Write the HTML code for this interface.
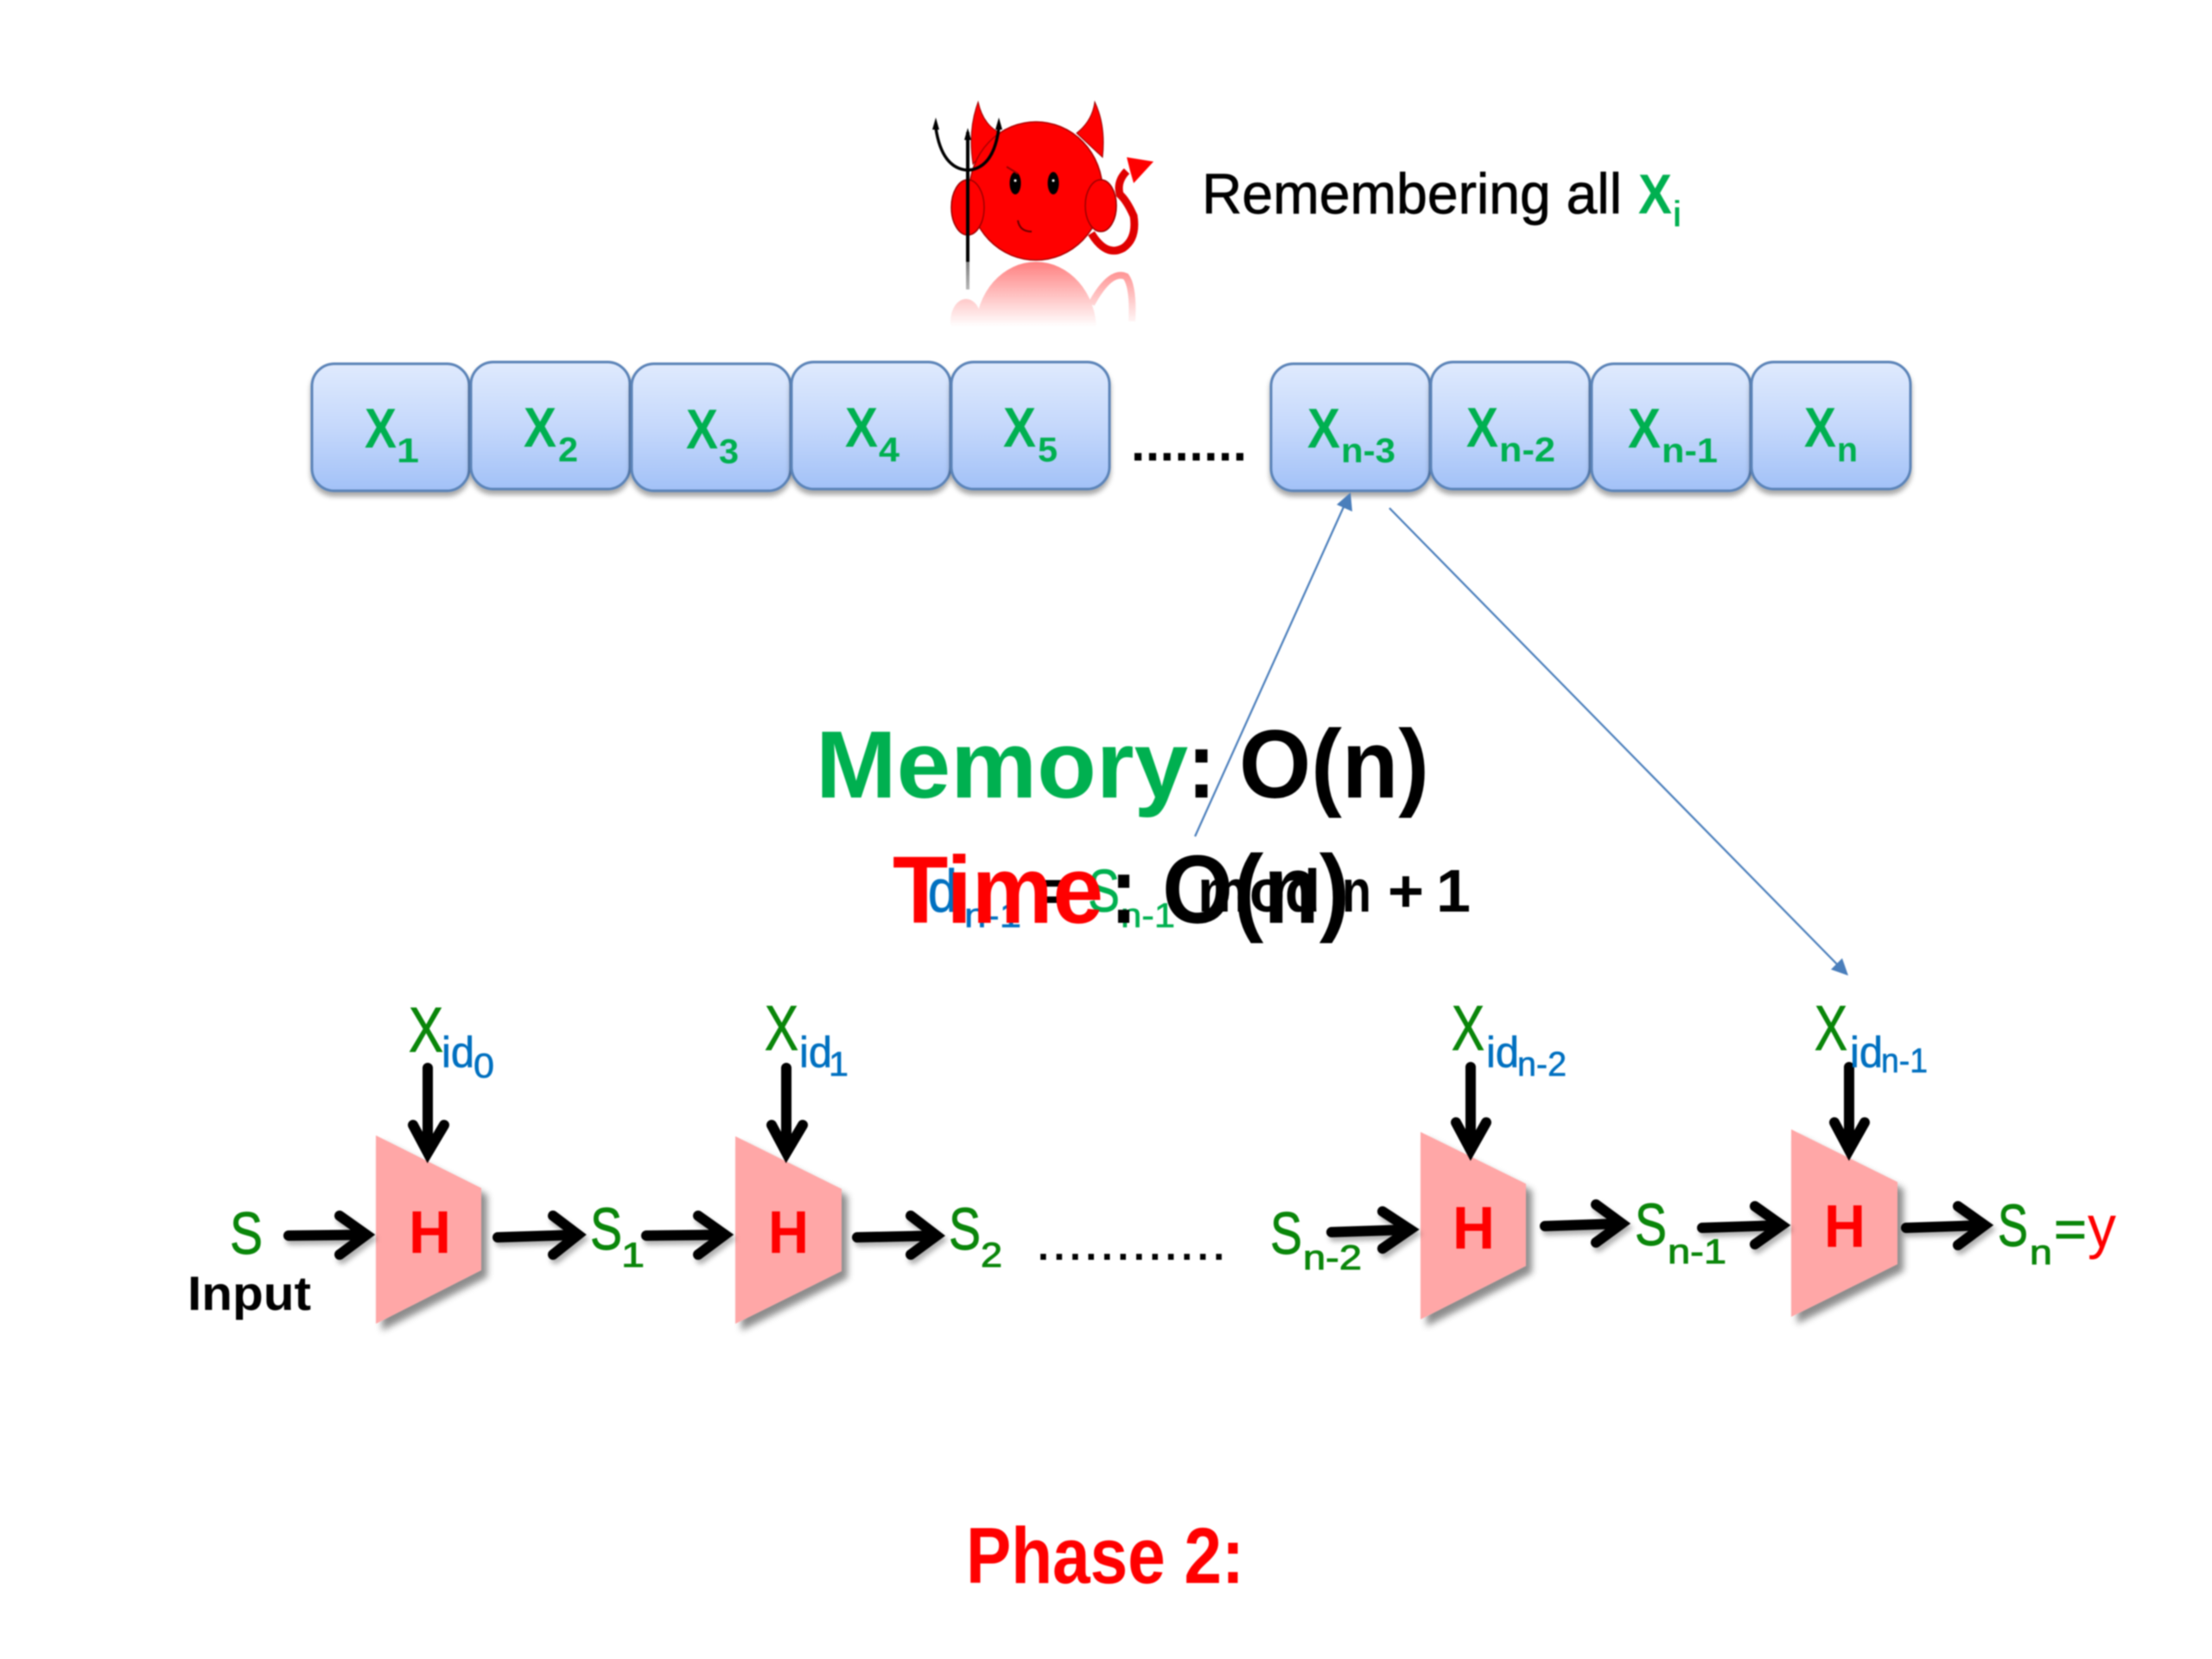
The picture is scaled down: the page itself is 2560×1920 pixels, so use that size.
<!DOCTYPE html>
<html><head><meta charset="utf-8"><style>
html,body{margin:0;padding:0;background:#fff;width:2560px;height:1920px;overflow:hidden}
svg{display:block;filter:blur(0.9px)}
text{font-family:"Liberation Sans",sans-serif}
.b{font-weight:bold}
.g{fill:#00b050}.d{fill:#0a860a;stroke:#0a860a;stroke-width:.9}.u{fill:#0070c0;stroke:#0070c0;stroke-width:.6}.k{fill:#000}.r{fill:#f00}
.gt{fill:#00b050;stroke:#00b050;stroke-width:.6}
.kt{fill:#000;stroke:#000;stroke-width:.7}
.bx{stroke:#5b84b8;stroke-width:3;fill:url(#bg);filter:url(#bs)}
.tr{fill:#ffa7a7;filter:url(#ts)}
.ar{fill:none;stroke:#000;stroke-width:12;stroke-miterlimit:10;stroke-linecap:round}
</style></head><body>
<svg width="2560" height="1920" viewBox="0 0 2560 1920" xmlns="http://www.w3.org/2000/svg">
<defs>
<linearGradient id="bg" x1="0" y1="0" x2="0" y2="1"><stop offset="0" stop-color="#dfeafd"/><stop offset=".5" stop-color="#c5d8fb"/><stop offset="1" stop-color="#a2c1f7"/></linearGradient>
<linearGradient id="fade" x1="0" y1="303" x2="0" y2="378" gradientUnits="userSpaceOnUse"><stop offset="0" stop-color="#fff" stop-opacity=".5"/><stop offset="1" stop-color="#fff" stop-opacity="0"/></linearGradient>
<mask id="fm" maskUnits="userSpaceOnUse" x="1080" y="300" width="280" height="90"><rect x="1080" y="300" width="280" height="90" fill="url(#fade)"/></mask>
<filter id="bs" x="-10%" y="-10%" width="120%" height="125%"><feDropShadow dx="0" dy="5" stdDeviation="3" flood-color="#000" flood-opacity=".35"/></filter>
<filter id="ts" x="-15%" y="-15%" width="135%" height="130%"><feDropShadow dx="7" dy="8" stdDeviation="4" flood-color="#000" flood-opacity=".45"/></filter>
<filter id="as" x="-30%" y="-30%" width="160%" height="160%"><feDropShadow dx="3" dy="5" stdDeviation="3" flood-color="#000" flood-opacity=".3"/></filter>
</defs>
<rect width="2560" height="1920" fill="#fff"/>

<!-- devil reflection -->
<g mask="url(#fm)">
<ellipse cx="1199" cy="383" rx="70" ry="80" fill="#f00"/>
<ellipse cx="1118" cy="372" rx="18" ry="26" fill="#f00"/>
<path d="M1263 352 Q1285 312 1303 320 Q1312 332 1310 372" fill="none" stroke="#f00" stroke-width="8"/>
<rect x="1118" y="303" width="4" height="32" fill="#000"/>
</g>

<!-- devil -->
<path d="M1132 118 Q1120 150 1126 190 L1158 154 Q1138 145 1132 118Z" fill="#f00" stroke="#900" stroke-width="1"/>
<path d="M1267 118 Q1264 140 1246 154 L1276 182 Q1280 145 1267 118Z" fill="#f00" stroke="#900" stroke-width="1"/>
<path d="M1263 270 Q1280 298 1300 287 Q1316 276 1312 250 Q1304 232 1296 225 Q1292 210 1304 198" fill="none" stroke="#e00000" stroke-width="9"/>
<path d="M1304 182 L1335 187 L1312 212 L1308 198Z" fill="#f00"/>
<ellipse cx="1199" cy="221" rx="77" ry="80" fill="#f00" stroke="#a00" stroke-width="1.5"/>
<ellipse cx="1120" cy="240" rx="19" ry="32" fill="#f00" stroke="#900" stroke-width="1.5"/>
<ellipse cx="1274" cy="238" rx="18" ry="30" fill="#f00" stroke="#900" stroke-width="1.5"/>
<path d="M1120 153V303" stroke="#000" stroke-width="4" fill="none"/>
<path d="M1083 148 Q1090 195 1120 197 Q1150 195 1156 148" stroke="#000" stroke-width="3.5" fill="none"/>
<path d="M1079 150L1083 136L1087 150Z M1116 162L1120 148L1124 162Z M1152 150L1156 136L1160 150Z" fill="#000"/>
<ellipse cx="1175" cy="212" rx="6.5" ry="13" fill="#000"/>
<ellipse cx="1219" cy="212" rx="6.5" ry="13" fill="#000"/>
<circle cx="1175" cy="209" r="1.5" fill="#fff"/><circle cx="1219" cy="209" r="1.5" fill="#fff"/>
<path d="M1165 193L1178 201" stroke="#900" stroke-width="2"/>
<path d="M1178 255 Q1180 268 1194 268" stroke="#600" stroke-width="2" fill="none"/>

<text x="1391" y="247" font-size="66" textLength="486" lengthAdjust="spacingAndGlyphs" class="kt">Remembering all</text>
<text x="1896" y="247" font-size="65" textLength="39" lengthAdjust="spacingAndGlyphs" class="b g">X</text>
<text x="1935" y="262" font-size="42" textLength="12" lengthAdjust="spacingAndGlyphs" class="g">i</text>

<!-- boxes -->
<rect class="bx" x="361" y="421" width="182" height="147" rx="26"/>
<rect class="bx" x="545" y="419" width="184" height="147" rx="26"/>
<rect class="bx" x="731" y="421" width="184" height="147" rx="26"/>
<rect class="bx" x="916" y="419" width="184" height="147" rx="26"/>
<rect class="bx" x="1101" y="419" width="183" height="147" rx="26"/>
<rect class="bx" x="1471" y="421" width="184" height="147" rx="26"/>
<rect class="bx" x="1656" y="419" width="184" height="147" rx="26"/>
<rect class="bx" x="1842" y="421" width="184" height="147" rx="26"/>
<rect class="bx" x="2027" y="419" width="184" height="147" rx="26"/>
<g class="b g">
<text x="422" y="518" font-size="65" textLength="37" lengthAdjust="spacingAndGlyphs">X</text><text x="459" y="535" font-size="40" textLength="26" lengthAdjust="spacingAndGlyphs">1</text>
<text x="606" y="517" font-size="65" textLength="38" lengthAdjust="spacingAndGlyphs">X</text><text x="646" y="534" font-size="40" textLength="23" lengthAdjust="spacingAndGlyphs">2</text>
<text x="794" y="519" font-size="65" textLength="37" lengthAdjust="spacingAndGlyphs">X</text><text x="832" y="536" font-size="40" textLength="23" lengthAdjust="spacingAndGlyphs">3</text>
<text x="978" y="517" font-size="65" textLength="38" lengthAdjust="spacingAndGlyphs">X</text><text x="1017" y="534" font-size="40" textLength="24" lengthAdjust="spacingAndGlyphs">4</text>
<text x="1161" y="517" font-size="65" textLength="38" lengthAdjust="spacingAndGlyphs">X</text><text x="1201" y="534" font-size="40" textLength="23" lengthAdjust="spacingAndGlyphs">5</text>
<text x="1513" y="518" font-size="65" textLength="38" lengthAdjust="spacingAndGlyphs">X</text><text x="1552" y="535" font-size="40" textLength="63" lengthAdjust="spacingAndGlyphs">n-3</text>
<text x="1697" y="517" font-size="65" textLength="37" lengthAdjust="spacingAndGlyphs">X</text><text x="1735" y="534" font-size="40" textLength="65" lengthAdjust="spacingAndGlyphs">n-2</text>
<text x="1884" y="518" font-size="65" textLength="38" lengthAdjust="spacingAndGlyphs">X</text><text x="1923" y="535" font-size="40" textLength="65" lengthAdjust="spacingAndGlyphs">n-1</text>
<text x="2088" y="517" font-size="65" textLength="37" lengthAdjust="spacingAndGlyphs">X</text><text x="2126" y="534" font-size="40" textLength="24" lengthAdjust="spacingAndGlyphs">n</text>
</g>
<text x="1309" y="533" font-size="58" textLength="134" lengthAdjust="spacing" class="b k">........</text>

<!-- blue connectors -->
<path d="M1383 968L1558 580" stroke="#4a7ebb" stroke-width="2.2" fill="none"/>
<path d="M1563 570L1565 592L1547 584Z" fill="#4a7ebb"/>
<path d="M1608 588L2130 1120" stroke="#4a7ebb" stroke-width="2.2" fill="none"/>
<path d="M2139 1129L2119 1122L2132 1109Z" fill="#4a7ebb"/>

<!-- formula under Time -->
<text x="1060" y="1055" font-size="70" textLength="48" lengthAdjust="spacingAndGlyphs" class="u">id</text>
<text x="1116" y="1073" font-size="40" textLength="66" lengthAdjust="spacingAndGlyphs" class="u">n-1</text>
<text x="1206" y="1055" font-size="70" textLength="28" lengthAdjust="spacingAndGlyphs" class="b k">=</text>
<text x="1259" y="1055" font-size="70" textLength="37" lengthAdjust="spacingAndGlyphs" class="gt">S</text>
<text x="1297" y="1073" font-size="40" textLength="63" lengthAdjust="spacingAndGlyphs" class="gt">n-1</text>
<text x="1386" y="1055" font-size="70" textLength="142" lengthAdjust="spacingAndGlyphs" class="b k">mod</text>
<text x="1553" y="1055" font-size="70" textLength="34" lengthAdjust="spacingAndGlyphs" class="b k">n</text>
<text x="1606" y="1055" font-size="70" textLength="42" lengthAdjust="spacingAndGlyphs" class="b k">+</text>
<text x="1662" y="1055" font-size="70" textLength="40" lengthAdjust="spacingAndGlyphs" class="b k">1</text>

<!-- Memory/Time -->
<text x="944" y="923" font-size="110" textLength="431" lengthAdjust="spacingAndGlyphs" class="b g">Memory</text>
<text x="1374" y="923" font-size="110" textLength="33" lengthAdjust="spacingAndGlyphs" class="b k">:</text>
<text x="1434" y="923" font-size="112" textLength="220" lengthAdjust="spacingAndGlyphs" class="b k">O(n)</text>
<text x="1033" y="1068" font-size="110" textLength="244" lengthAdjust="spacingAndGlyphs" class="b r">Time</text>
<text x="1285" y="1068" font-size="110" textLength="31" lengthAdjust="spacingAndGlyphs" class="b k">:</text>
<text x="1345" y="1068" font-size="112" textLength="217" lengthAdjust="spacingAndGlyphs" class="b k">O(n)</text>

<!-- trapezoids -->
<path class="tr" d="M435 1314L557 1375V1470L435 1532Z"/>
<path class="tr" d="M851 1315L974 1376V1471L851 1532Z"/>
<path class="tr" d="M1644 1310L1766 1370V1465L1644 1527Z"/>
<path class="tr" d="M2073 1307L2196 1368V1463L2073 1524Z"/>
<g class="b r" font-size="70">
<text x="473" y="1450" textLength="49" lengthAdjust="spacingAndGlyphs">H</text>
<text x="889" y="1450" textLength="47" lengthAdjust="spacingAndGlyphs">H</text>
<text x="1681" y="1445" textLength="49" lengthAdjust="spacingAndGlyphs">H</text>
<text x="2111" y="1443" textLength="48" lengthAdjust="spacingAndGlyphs">H</text>
</g>

<!-- vertical arrows -->
<g class="ar">
<path d="M495 1236V1334M478 1302L495 1334L514 1302"/>
<path d="M910 1236V1334M893 1302L910 1334L929 1302"/>
<path d="M1702 1235V1331M1685 1299L1702 1331L1720 1299"/>
<path d="M2140 1235V1331M2123 1299L2140 1331L2158 1299"/>
</g>

<!-- horizontal arrows -->
<g class="ar" filter="url(#as)">
<path d="M334 1430L424 1429M393 1407L424 1429L393 1452"/>
<path d="M576 1432L669 1429M640 1407L669 1429L640 1452"/>
<path d="M748 1430L839 1429M808 1407L839 1429L808 1452"/>
<path d="M992 1432L1084 1430M1054 1407L1084 1430L1054 1452"/>
<path d="M1541 1426L1632 1423M1600 1402L1632 1423L1600 1445"/>
<path d="M1788 1419L1877 1416M1847 1394L1877 1416L1847 1438"/>
<path d="M1970 1421L2062 1418M2031 1396L2062 1418L2031 1440"/>
<path d="M2206 1421L2297 1418M2266 1396L2297 1418L2266 1441"/>
</g>

<!-- S labels -->
<g class="d">
<text x="266" y="1451" font-size="69" textLength="38" lengthAdjust="spacingAndGlyphs">S</text>
<text x="683" y="1446" font-size="69" textLength="37" lengthAdjust="spacingAndGlyphs">S</text><text x="719" y="1466" font-size="40" textLength="27" lengthAdjust="spacingAndGlyphs">1</text>
<text x="1098" y="1446" font-size="69" textLength="37" lengthAdjust="spacingAndGlyphs">S</text><text x="1135" y="1466" font-size="40" textLength="25" lengthAdjust="spacingAndGlyphs">2</text>
<text x="1470" y="1451" font-size="69" textLength="37" lengthAdjust="spacingAndGlyphs">S</text><text x="1508" y="1469" font-size="40" textLength="68" lengthAdjust="spacingAndGlyphs">n-2</text>
<text x="1892" y="1441" font-size="69" textLength="37" lengthAdjust="spacingAndGlyphs">S</text><text x="1930" y="1462" font-size="40" textLength="68" lengthAdjust="spacingAndGlyphs">n-1</text>
<text x="2312" y="1442" font-size="69" textLength="35" lengthAdjust="spacingAndGlyphs">S</text><text x="2349" y="1463" font-size="40" textLength="26" lengthAdjust="spacingAndGlyphs">n</text>
<text x="2377" y="1443" font-size="60" textLength="38" lengthAdjust="spacingAndGlyphs">=</text>
</g>
<text x="2416" y="1443" font-size="69" textLength="33" lengthAdjust="spacingAndGlyphs" class="r">y</text>
<text x="217" y="1516" font-size="56" textLength="143" lengthAdjust="spacingAndGlyphs" class="b k">Input</text>
<text x="1201" y="1458" font-size="46" textLength="216" lengthAdjust="spacing" class="b k">............</text>

<!-- X id labels -->
<g class="d" font-size="73">
<text x="473" y="1217" textLength="40" lengthAdjust="spacingAndGlyphs">X</text>
<text x="885" y="1215" textLength="39" lengthAdjust="spacingAndGlyphs">X</text>
<text x="1680" y="1215" textLength="38" lengthAdjust="spacingAndGlyphs">X</text>
<text x="2100" y="1215" textLength="38" lengthAdjust="spacingAndGlyphs">X</text>
</g>
<g class="u">
<text x="511" y="1235" font-size="50" textLength="38" lengthAdjust="spacingAndGlyphs">id</text><text x="548" y="1247" font-size="40" textLength="24" lengthAdjust="spacingAndGlyphs">0</text>
<text x="925" y="1235" font-size="50" textLength="38" lengthAdjust="spacingAndGlyphs">id</text><text x="959" y="1245" font-size="40" textLength="23" lengthAdjust="spacingAndGlyphs">1</text>
<text x="1720" y="1235" font-size="50" textLength="38" lengthAdjust="spacingAndGlyphs">id</text><text x="1756" y="1245" font-size="40" textLength="57" lengthAdjust="spacingAndGlyphs">n-2</text>
<text x="2141" y="1235" font-size="50" textLength="38" lengthAdjust="spacingAndGlyphs">id</text><text x="2177" y="1241" font-size="40" textLength="54" lengthAdjust="spacingAndGlyphs">n-1</text>
</g>

<text x="1118" y="1832" font-size="92" textLength="322" lengthAdjust="spacingAndGlyphs" class="b r">Phase 2:</text>
</svg>
</body></html>
